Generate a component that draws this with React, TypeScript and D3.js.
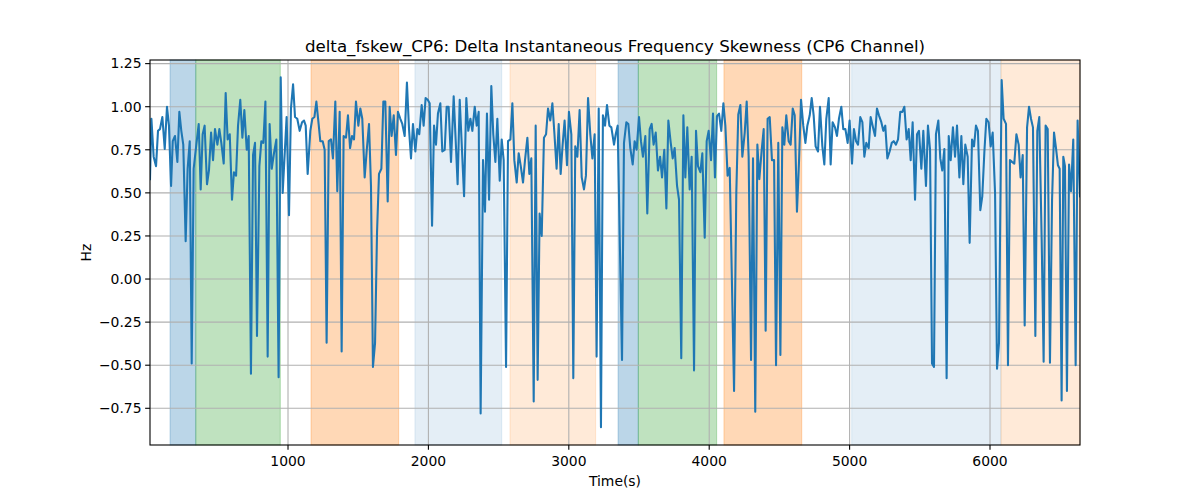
import React from "react";
import * as d3 from "d3";

const TITLE = "delta_fskew_CP6: Delta Instantaneous Frequency Skewness (CP6 Channel)";
const X_LABEL = "Time(s)";
const Y_LABEL = "Hz";

const xTicks = [1000, 2000, 3000, 4000, 5000, 6000];
const yTicks = [-0.75, -0.5, -0.25, 0, 0.25, 0.5, 0.75, 1.0, 1.25];

const spanStarts = [160, 343, 1164, 1904, 2581, 3351, 3495, 4105, 5015, 6078];
const spanEnds = [343, 945, 1788, 2522, 3191, 3495, 4053, 4659, 6078, 6641];
const spanColors = ["#1f77b4", "#2ca02c", "#ff7f0e", "#1f77b4", "#ff7f0e", "#1f77b4", "#2ca02c", "#ff7f0e", "#1f77b4", "#ff7f0e"];
const spanAlphas = [0.3, 0.3, 0.3, 0.12, 0.16, 0.3, 0.3, 0.3, 0.12, 0.16];

const times = [
  17, 27, 43, 60, 74, 88, 105, 122, 138, 152, 167, 179, 195, 212, 226, 240, 254, 271, 285, 300,
  314, 328, 347, 364, 378, 392, 406, 423, 437, 452, 466, 480, 497, 511, 525, 542, 556, 570, 585, 601,
  615, 630, 644, 660, 675, 689, 706, 720, 736, 751, 765, 779, 796, 810, 824, 839, 855, 869, 884, 900,
  917, 933, 948, 962, 990, 1007, 1021, 1036, 1050, 1066, 1083, 1100, 1114, 1126, 1140, 1159, 1173, 1188, 1202, 1218,
  1230, 1247, 1261, 1275, 1290, 1306, 1320, 1337, 1351, 1368, 1382, 1396, 1413, 1427, 1442, 1456, 1470, 1484, 1501, 1515,
  1529, 1546, 1560, 1577, 1591, 1605, 1620, 1634, 1648, 1665, 1679, 1693, 1710, 1724, 1738, 1753, 1769, 1783, 1800, 1814,
  1831, 1847, 1862, 1876, 1890, 1907, 1921, 1935, 1952, 1966, 1980, 1995, 2009, 2026, 2040, 2054, 2068, 2085, 2099, 2116,
  2130, 2144, 2161, 2180, 2194, 2208, 2223, 2254, 2270, 2284, 2299, 2313, 2330, 2344, 2358, 2372, 2389, 2403, 2417, 2432,
  2448, 2462, 2477, 2491, 2508, 2522, 2536, 2553, 2567, 2584, 2598, 2612, 2629, 2643, 2657, 2674, 2688, 2705, 2719, 2733,
  2750, 2764, 2778, 2792, 2807, 2823, 2838, 2852, 2868, 2883, 2897, 2913, 2928, 2942, 2956, 2970, 2987, 3001, 3018, 3032,
  3046, 3061, 3077, 3092, 3108, 3122, 3137, 3153, 3168, 3184, 3198, 3213, 3229, 3243, 3258, 3272, 3289, 3303, 3322, 3334,
  3348, 3379, 3393, 3410, 3424, 3438, 3455, 3469, 3483, 3500, 3514, 3528, 3545, 3559, 3576, 3590, 3604, 3619, 3635, 3650,
  3664, 3680, 3695, 3709, 3726, 3740, 3754, 3771, 3785, 3801, 3816, 3830, 3844, 3861, 3875, 3892, 3906, 3920, 3937, 3951,
  3968, 3982, 3996, 4013, 4027, 4041, 4055, 4070, 4086, 4101, 4115, 4131, 4146, 4177, 4193, 4207, 4222, 4236, 4253, 4267,
  4281, 4298, 4312, 4328, 4343, 4357, 4374, 4388, 4402, 4416, 4431, 4447, 4462, 4476, 4492, 4507, 4521, 4535, 4549, 4566,
  4580, 4595, 4609, 4625, 4640, 4654, 4670, 4685, 4699, 4716, 4730, 4744, 4758, 4775, 4789, 4806, 4820, 4834, 4851, 4865,
  4879, 4896, 4910, 4924, 4941, 4955, 4970, 4986, 5000, 5017, 5031, 5046, 5060, 5076, 5091, 5105, 5119, 5136, 5150, 5164,
  5181, 5195, 5209, 5226, 5240, 5254, 5269, 5285, 5300, 5314, 5330, 5345, 5361, 5376, 5390, 5406, 5421, 5435, 5449, 5466,
  5480, 5494, 5511, 5525, 5544, 5558, 5573, 5587, 5601, 5615, 5632, 5646, 5660, 5675, 5691, 5706, 5720, 5736, 5751, 5765,
  5782, 5796, 5810, 5824, 5841, 5855, 5872, 5886, 5900, 5914, 5931, 5945, 5960, 5974, 5990, 6005, 6019, 6036, 6050, 6064,
  6083, 6097, 6114, 6128, 6142, 6157, 6173, 6188, 6204, 6218, 6233, 6247, 6264, 6278, 6292, 6306, 6323, 6337, 6351, 6368,
  6382, 6396, 6411, 6427, 6442, 6456, 6470, 6484, 6496, 6510, 6522, 6534, 6548, 6563, 6577, 6593, 6610, 6624, 6641,
];

const values = [
  0.58, 0.93, 0.71, 0.655, 0.86, 0.87, 0.94, 0.755, 1.0, 0.89, 0.54, 0.8, 0.83, 0.68, 0.97, 0.86, 0.78, 0.22, 0.64, 0.8,
  -0.49, 0.64, 0.78, 0.9, 0.52, 0.84, 0.89, 0.55, 0.63, 0.85, 0.69, 0.87, 0.78, 0.87, 0.79, 0.67, 1.08, 0.81, 0.84, 0.46,
  0.62, 0.6, 0.89, 1.04, 0.82, 0.98, 0.75, 0.83, -0.55, 0.72, 0.79, -0.33, 0.655, 0.8, 0.79, 1.03, -0.45, 0.9, 0.64, 0.73,
  0.81, -0.57, 1.17, 0.5, 0.94, 0.37, 0.99, 1.13, 0.94, 0.93, 0.86, 0.91, 0.92, 0.89, 0.61, 0.86, 0.93, 0.94, 1.03, 0.9,
  0.8, 0.8, 0.75, -0.37, 0.8, 0.81, 0.7, 1.03, 0.51, 0.97, -0.42, 0.83, 0.82, 0.95, 0.76, 0.83, 0.81, 1.03, 0.89, 0.99,
  0.93, 0.59, 0.74, 0.9, 0.54, -0.51, -0.37, 0.27, 0.61, 0.64, 1.03, 1.03, 0.45, 1.0, 0.83, 0.95, 0.72, 0.97, 0.93, 0.9,
  0.83, 1.14, 0.87, 0.7, 0.9, 0.74, 0.87, 0.84, 1.01, 0.89, 1.05, 1.04, 1.02, 0.31, 0.89, 0.78, 0.96, 1.02, 0.74, 0.75,
  1.0, 1.0, 0.68, 1.06, 0.81, 0.55, 1.04, 0.48, 1.05, 0.86, 0.93, 0.86, 1.0, 0.89, 0.97, -0.78, 0.69, 0.39, 0.96, 0.46,
  1.12, 0.84, 0.68, 0.93, 0.57, 0.81, 0.69, -0.51, 0.8, 0.81, 1.02, 0.69, 0.56, 0.73, 0.66, 0.56, 0.69, 0.82, 0.61, 0.7,
  -0.71, 0.89, -0.585, 0.38, 0.25, 0.82, 0.84, 0.99, 0.92, 1.02, 0.85, 0.64, 0.9, 0.61, 0.78, 0.92, 0.66, 0.97, 0.84, -0.575,
  0.77, 0.71, 0.98, 0.59, 0.52, 0.6, 1.05, 0.84, 0.7, 0.84, -0.45, 0.99, -0.86, 0.95, 0.89, 1.01, 0.89, 0.88, 0.78, 0.84,
  0.89, -0.47, 0.79, 0.91, 0.9, 0.76, 0.665, 0.8, 0.75, 0.94, 0.8, 0.71, 0.83, 0.38, 0.87, 0.9, 0.78, 0.85, 0.63, 0.71,
  0.59, 0.75, 0.41, 0.92, 0.79, 0.7, 0.76, 0.54, 0.46, -0.46, 0.95, 0.59, 0.88, 0.52, 0.71, -0.53, 0.86, 0.655, 0.62, 0.73,
  0.24, 0.8, 0.86, 0.69, 0.96, 0.59, 0.945, 0.96, 0.86, 1.02, 0.89, 0.6, 0.645, -0.65, 0.5, 0.955, 1.01, 0.71, 0.85, 1.03,
  0.71, -0.47, 0.7, -0.77, 0.78, 0.58, 0.75, 0.87, -0.3, 0.93, 0.94, 0.69, 0.69, -0.5, 0.79, -0.44, 0.88, 0.78, 0.95, 0.8,
  0.78, 0.99, 0.95, 0.39, 0.69, 1.04, 0.89, 0.79, 0.89, 0.95, 1.05, 0.95, 0.77, 0.74, 1.0, 0.77, 0.665, 0.93, 1.05, 0.665,
  0.91, 0.88, 0.83, 0.93, 1.0, 0.87, 0.87, 0.79, 0.92, 0.67, 0.87, 0.8, 0.78, 0.94, 0.91, 0.71, 0.79, 0.76, 0.94, 0.89,
  0.83, 0.99, 0.95, 0.91, 0.86, 0.89, 0.7, 0.74, 0.79, 0.8, 0.78, 0.81, 0.97, 0.97, 1.0, 0.81, 0.87, 0.69, 0.91, 0.46,
  0.84, 0.86, 0.64, 0.86, 0.54, 0.89, 0.75, -0.49, -0.51, 0.84, 0.92, 0.7, 0.63, 0.755, -0.575, 0.83, 0.69, 0.88, 0.71, 0.89,
  0.59, 0.83, 0.55, 0.78, 0.71, 0.21, 0.81, 0.77, 0.89, 0.86, 0.4, 0.48, 0.74, 0.93, 0.91, 0.77, 0.85, 0.5, -0.52, -0.37,
  1.155, 0.93, 0.9, -0.5, 0.69, 0.68, 0.67, 0.84, 0.78, 0.59, 0.72, -0.27, 0.88, 1.0, 0.93, 0.88, -0.33, 0.86, 0.94, 0.23,
  -0.48, 0.89, 0.87, -0.485, 0.46, 0.85, 0.76, 0.66, 0.64, -0.705, 0.71, 0.655, -0.65, 0.665, 0.51, 0.81, -0.5, 0.92, 0.48,
];

const W = 1200;
const H = 500;
const M = { left: 150, right: 1080, top: 60, bottom: 445 };
const FONT = "'DejaVu Sans', sans-serif";

export default function App() {
  const x = d3.scaleLinear().domain([17, 6641]).range([M.left, M.right]);
  const y = d3.scaleLinear().domain([-0.963, 1.271]).range([M.bottom, M.top]);
  const pts = times.map((t, i) => [t, values[i]] as [number, number]);
  const line = d3
    .line<[number, number]>()
    .x((d) => x(d[0]))
    .y((d) => y(d[1]));
  const fmtY = (v: number) => {
    const s = Math.abs(v).toFixed(2);
    return v < 0 ? "\u2212" + s : s;
  };
  const tickLen = 4.86;
  return (
    <div style={{ position: "absolute", left: 0, top: 0, width: W, height: H, background: "#fff" }}>
      <svg width={W} height={H} style={{ display: "block" }} fontFamily={FONT}>
        <rect x={0} y={0} width={W} height={H} fill="#fff" />
        <defs>
          <clipPath id="plotclip">
            <rect x={M.left} y={M.top} width={M.right - M.left} height={M.bottom - M.top} />
          </clipPath>
        </defs>
        {spanStarts.map((s, i) => (
          <rect
            key={"sp" + i}
            x={x(s)}
            y={M.top}
            width={x(spanEnds[i]) - x(s)}
            height={M.bottom - M.top}
            fill={spanColors[i]}
            fillOpacity={spanAlphas[i]}
            stroke={spanColors[i]}
            strokeOpacity={spanAlphas[i]}
            strokeWidth={1}
          />
        ))}
        {xTicks.map((t) => (
          <line key={"gx" + t} x1={x(t)} x2={x(t)} y1={M.top} y2={M.bottom} stroke="#b0b0b0" strokeWidth={1.1} />
        ))}
        {yTicks.map((t) => (
          <line key={"gy" + t} x1={M.left} x2={M.right} y1={y(t)} y2={y(t)} stroke="#b0b0b0" strokeWidth={1.1} />
        ))}
        <path
          d={line(pts) || ""}
          fill="none"
          stroke="#1f77b4"
          strokeWidth={2.08}
          strokeLinejoin="round"
          strokeLinecap="square"
          clipPath="url(#plotclip)"
        />
        <rect
          x={M.left}
          y={M.top}
          width={M.right - M.left}
          height={M.bottom - M.top}
          fill="none"
          stroke="#000"
          strokeWidth={1.1}
        />
        {xTicks.map((t) => (
          <g key={"tx" + t}>
            <line x1={x(t)} x2={x(t)} y1={M.bottom} y2={M.bottom + tickLen} stroke="#000" strokeWidth={1.1} />
            <text x={x(t)} y={M.bottom + 21} textAnchor="middle" fontSize={13.9} fill="#000">
              {t}
            </text>
          </g>
        ))}
        {yTicks.map((t) => (
          <g key={"ty" + t}>
            <line x1={M.left - tickLen} x2={M.left} y1={y(t)} y2={y(t)} stroke="#000" strokeWidth={1.1} />
            <text x={M.left - 8.5} y={y(t)} dy="0.35em" textAnchor="end" fontSize={13.9} fill="#000">
              {fmtY(t)}
            </text>
          </g>
        ))}
        <text x={(M.left + M.right) / 2} y={486} textAnchor="middle" fontSize={13.9} fill="#000">
          {X_LABEL}
        </text>
        <text
          transform={`translate(${91},${(M.top + M.bottom) / 2}) rotate(-90)`}
          textAnchor="middle"
          fontSize={13.9}
          fill="#000"
        >
          {Y_LABEL}
        </text>
        <text x={(M.left + M.right) / 2} y={52} textAnchor="middle" fontSize={16.67} fill="#000">
          {TITLE}
        </text>
      </svg>
    </div>
  );
}
